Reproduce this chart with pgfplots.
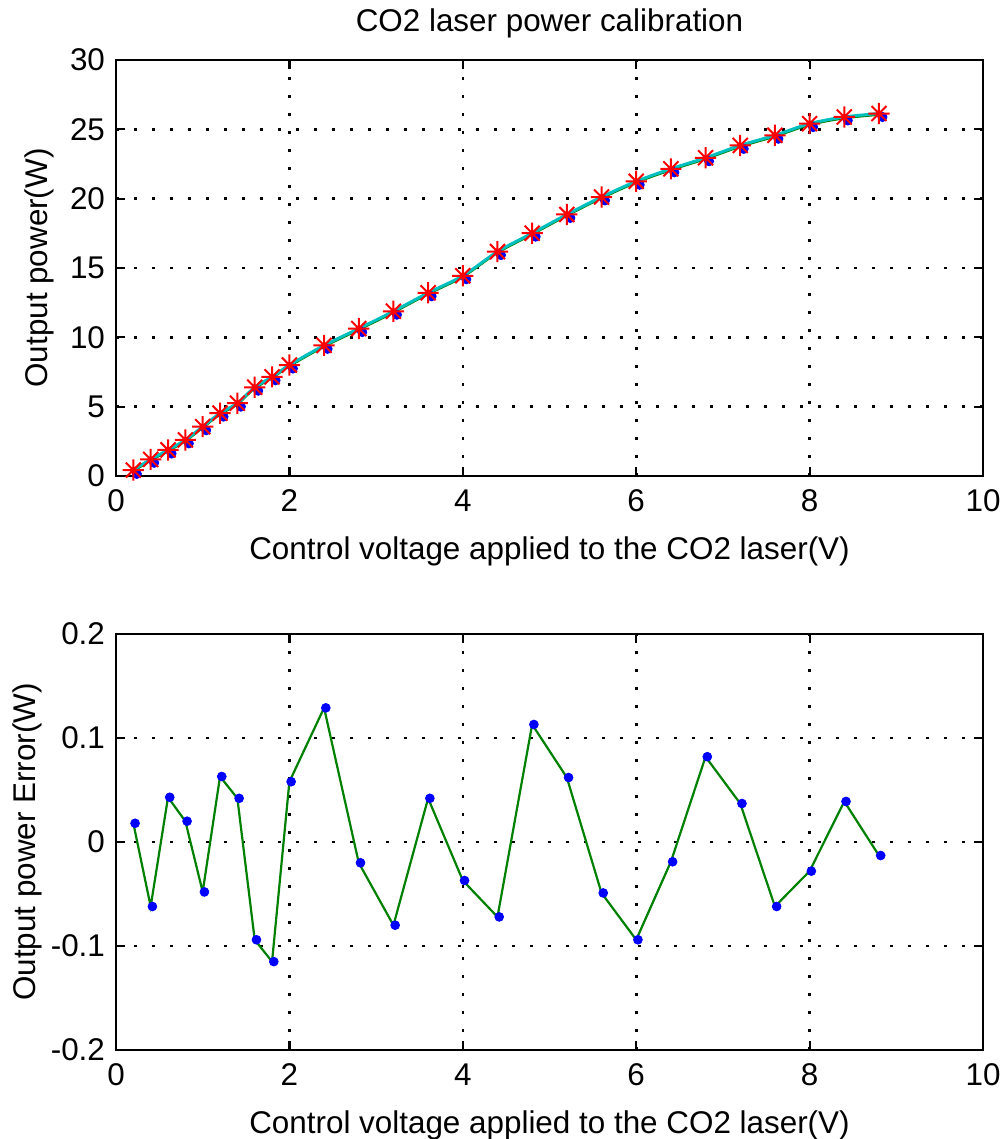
\documentclass[border=0pt]{standalone}
\usepackage{fontspec}
\setmainfont{Liberation Sans}
\usepackage{pgfplots}
\usepackage{pgfplotstable}
\pgfplotsset{compat=1.18}
\definecolor{mgreen}{rgb}{0,0.5,0}
\definecolor{mcyan}{rgb}{0,0.75,0.75}
\pgfdeclareplotmark{mstar}{%
 \pgfpathmoveto{\pgfqpoint{-\pgfplotmarksize}{0pt}}\pgfpathlineto{\pgfqpoint{\pgfplotmarksize}{0pt}}%
 \pgfpathmoveto{\pgfqpoint{0pt}{-\pgfplotmarksize}}\pgfpathlineto{\pgfqpoint{0pt}{\pgfplotmarksize}}%
 \pgfpathmoveto{\pgfqpoint{-0.7071\pgfplotmarksize}{-0.7071\pgfplotmarksize}}\pgfpathlineto{\pgfqpoint{0.7071\pgfplotmarksize}{0.7071\pgfplotmarksize}}%
 \pgfpathmoveto{\pgfqpoint{-0.7071\pgfplotmarksize}{0.7071\pgfplotmarksize}}\pgfpathlineto{\pgfqpoint{0.7071\pgfplotmarksize}{-0.7071\pgfplotmarksize}}%
 \pgfusepathqstroke}
\pgfplotstableread{
x y
0.2 0.43
0.4 1.20
0.6 1.88
0.8 2.60
1.0 3.56
1.2 4.53
1.4 5.25
1.6 6.40
1.8 7.15
2.0 8.00
2.4 9.42
2.8 10.63
3.2 11.88
3.6 13.21
4.0 14.44
4.4 16.18
4.8 17.51
5.2 18.86
5.6 20.12
6.0 21.25
6.4 22.15
6.8 22.95
7.2 23.84
7.6 24.57
8.0 25.41
8.4 25.89
8.8 26.14
}\powertable
\pgfplotstableread{
x y
0.2 0.31
0.4 1.08
0.6 1.76
0.8 2.48
1.0 3.44
1.2 4.41
1.4 5.13
1.6 6.28
1.8 7.03
2.0 7.88
2.4 9.30
2.8 10.51
3.2 11.76
3.6 13.09
4.0 14.32
4.4 16.06
4.8 17.39
5.2 18.74
5.6 20.00
6.0 21.13
6.4 22.03
6.8 22.83
7.2 23.72
7.6 24.45
8.0 25.29
8.4 25.77
8.8 26.02
}\greentable
\pgfplotstableread{
x y
0.24 0.15
0.44 0.95
0.64 1.62
0.84 2.35
1.04 3.30
1.24 4.28
1.44 5.00
1.64 6.15
1.84 6.90
2.04 7.75
2.44 9.17
2.84 10.38
3.24 11.63
3.64 12.96
4.04 14.19
4.44 15.93
4.84 17.26
5.24 18.61
5.64 19.87
6.04 21.00
6.44 21.90
6.84 22.70
7.24 23.59
7.64 24.32
8.04 25.16
8.44 25.64
8.84 25.89
}\bluetable
\pgfplotstableread{
x y
0.2 0.018
0.4 -0.062
0.6 0.043
0.8 0.020
1.0 -0.048
1.2 0.063
1.4 0.042
1.6 -0.094
1.8 -0.115
2.0 0.058
2.4 0.129
2.8 -0.020
3.2 -0.080
3.6 0.042
4.0 -0.037
4.4 -0.072
4.8 0.113
5.2 0.062
5.6 -0.049
6.0 -0.094
6.4 -0.019
6.8 0.082
7.2 0.037
7.6 -0.062
8.0 -0.028
8.4 0.039
8.8 -0.013
}\errtable
\pgfplotstableread{
x y
0.22 0.018
0.42 -0.062
0.62 0.043
0.82 0.020
1.02 -0.048
1.22 0.063
1.42 0.042
1.62 -0.094
1.82 -0.115
2.02 0.058
2.42 0.129
2.82 -0.020
3.22 -0.080
3.62 0.042
4.02 -0.037
4.42 -0.072
4.82 0.113
5.22 0.062
5.62 -0.049
6.02 -0.094
6.42 -0.019
6.82 0.082
7.22 0.037
7.62 -0.062
8.02 -0.028
8.42 0.039
8.82 -0.013
}\errdots
\pgfplotsset{
  mstyle/.style={
    scale only axis, width=433.5pt, height=208pt,
    xmin=0, xmax=10, xtick={0,2,4,6,8,10}, xticklabels={0,2,4,6,8,10},
    grid=major,
    grid style={black, line width=1.3pt, dash pattern=on 1.4pt off 7.6pt},
    axis line style={line width=1.3pt},
    tick align=inside, major tick length=4.3pt,
    every tick/.style={black, line width=1.1pt},
    tick label style={font=\fontsize{15.7}{18}\selectfont},
    label style={font=\fontsize{15.7}{18}\selectfont},
    title style={font=\fontsize{15.7}{18}\selectfont, at={(axis description cs:0.5,1)}, anchor=center, yshift=12.5pt},
    xticklabel style={yshift=-3.5pt},
    yticklabel style={xshift=-2pt},
    xlabel style={at={(axis description cs:0.5,0)}, anchor=center, yshift=-37.5pt},
    xlabel={Control voltage applied to the CO2 laser(V)},
  }
}
\begin{document}
\begin{tikzpicture}
\begin{axis}[mstyle, at={(0,0)}, anchor=south west,
  ymin=0, ymax=30, ytick={0,5,10,15,20,25,30}, yticklabels={0,5,10,15,20,25,30},
  ylabel={Output power(W)},
  ylabel style={at={(axis description cs:-0.088,0.5)}, anchor=center},
  title={CO2 laser power calibration}]
\addplot[only marks, mark=*, mark size=2.3pt, color=blue] table[x=x,y=y] {\bluetable};
\addplot[mgreen, line width=0.7pt, smooth] table[x=x,y=y] {\greentable};
\addplot[mcyan, line width=1.5pt, smooth] table[x=x,y=y] {\powertable};
\addplot[only marks, mark=mstar, mark size=5.3pt, color=red, mark options={line width=1pt}] table[x=x,y=y] {\powertable};
\end{axis}
\begin{axis}[mstyle, at={(0,-287pt)}, anchor=south west,
  ymin=-0.2, ymax=0.2, ytick={-0.2,-0.1,0,0.1,0.2}, yticklabels={-0.2,-0.1,0,0.1,0.2},
  ylabel={Output power Error(W)},
  ylabel style={at={(axis description cs:-0.102,0.5)}, anchor=center}]
\addplot[mgreen, line width=1.1pt] table[x=x,y=y] {\errtable};
\addplot[only marks, mark=*, mark size=2.2pt, color=blue] table[x=x,y=y] {\errdots};
\end{axis}
\pgfresetboundingbox
\useasboundingbox (-58pt,-331.5pt) rectangle (443.5pt,238pt);
\end{tikzpicture}
\end{document}
